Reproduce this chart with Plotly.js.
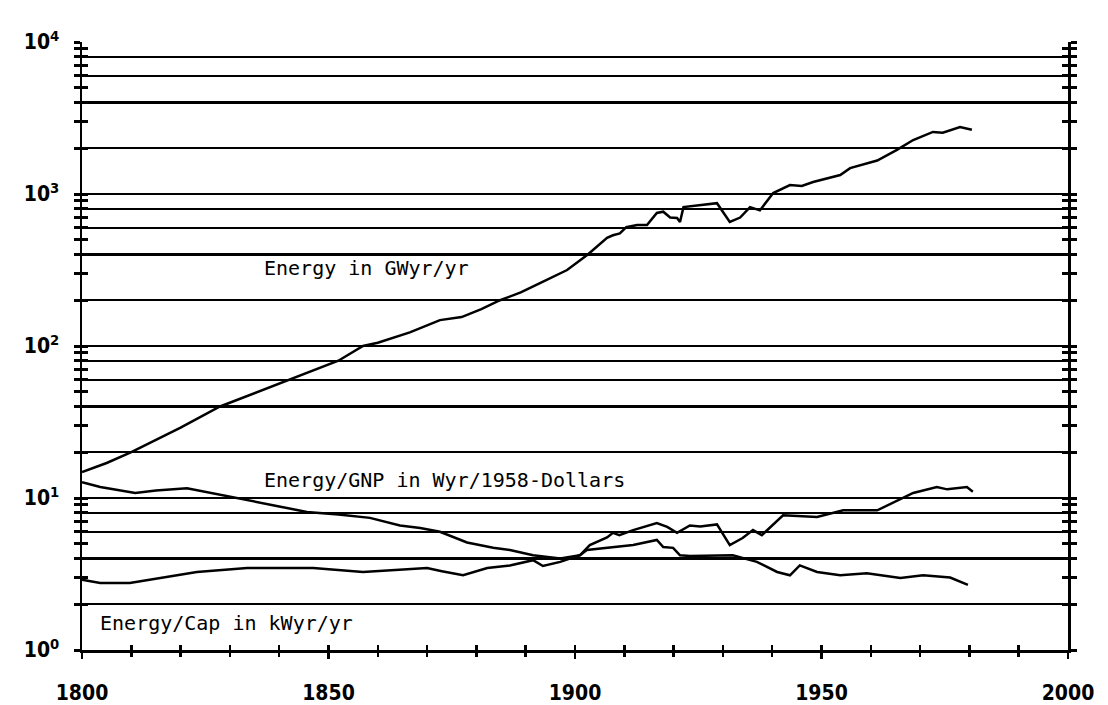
<!DOCTYPE html>
<html><head><meta charset="utf-8">
<script src="https://cdn.plot.ly/plotly-3.0.1.min.js"></script>
<style>html,body{margin:0;padding:0;background:#fff}#chart{width:1108px;height:705px}</style>
</head><body><div id="chart"></div>
<script>
// Total energy, GWyr/yr
const energyYears = [1800,1805,1810,1815,1820,1828,1835,1842,1847,1852,1857,1860,1866.5,1872.6,1877,1881,1884.8,1889,1893,1898.4,1902.6,1903.7,1906.5,1907.7,1909.1,1910.4,1912.6,1914.6,1916.6,1917.9,1919.3,1920.7,1921.3,1922,1925,1928.8,1931.4,1933.5,1935.5,1937.5,1940.2,1943.6,1946,1948.3,1953.8,1955.8,1961.3,1965.3,1968.6,1972.6,1974.6,1978.1,1980.5];
const energyVals  = [14.8,17,20,24,29,40,49,60,70,80,100,105,123,148,155,175,200,225,260,316,400,428,515,535,550,605,625,625,750,765,700,695,655,820,840,870,655,700,820,780,1015,1145,1130,1200,1333,1480,1660,1950,2265,2560,2530,2760,2650];
// Energy/GNP, Wyr/1958-Dollars
const gnpYears = [1800,1803.7,1810.8,1815,1821.3,1827,1833.5,1840,1845.6,1852,1858.4,1864.5,1868.6,1872.6,1878.1,1883.4,1886.8,1891.5,1897,1901,1902.4,1906.5,1911.8,1916.6,1917.9,1919.9,1921.3,1923.3,1928.8,1932,1936.9,1941,1943.6,1945.6,1949.1,1953.8,1959.2,1966,1970.6,1976.1,1979.7];
const gnpVals  = [12.7,11.8,10.8,11.2,11.6,10.7,9.7,8.8,8.1,7.8,7.4,6.6,6.35,6.0,5.1,4.7,4.55,4.2,4.0,4.2,4.55,4.7,4.9,5.3,4.76,4.7,4.2,4.15,4.2,4.2,3.8,3.26,3.1,3.6,3.26,3.1,3.2,2.98,3.1,3.0,2.68];
// Energy/Cap, kWyr/yr
const capYears = [1800,1803.7,1809.7,1816.4,1823.3,1833.5,1846.9,1857,1863.9,1870,1873,1877.3,1882.2,1886.8,1891.5,1893.5,1897,1901,1903,1906.5,1907.7,1909,1911.8,1916.6,1918.7,1920.7,1923.3,1925.4,1928.8,1931.4,1934,1936.1,1937.9,1942.2,1949.1,1954.4,1961.3,1968.6,1973.4,1975.5,1979.5,1980.7];
const capVals  = [2.9,2.76,2.76,3.0,3.26,3.46,3.46,3.26,3.36,3.46,3.3,3.1,3.46,3.6,3.9,3.57,3.8,4.2,4.9,5.5,5.9,5.7,6.15,6.85,6.45,5.9,6.6,6.5,6.7,4.9,5.45,6.15,5.7,7.7,7.5,8.3,8.3,10.8,11.8,11.4,11.8,11];

const seriesLabels = ["Energy in GWyr/yr", "Energy/GNP in Wyr/1958-Dollars", "Energy/Cap in kWyr/yr"];
const decadeVals = [1,10,100,1000,10000];
const decadeText = ["10<sup>0</sup>","10<sup>1</sup>","10<sup>2</sup>","10<sup>3</sup>","10<sup>4</sup>"];
const gridMultipliers = [1,2,4,6,8];
const tickMultipliers = [1,2,3,4,5,6,7,8,9];
const xLabelVals = [1800,1850,1900,1950,2000];
const xLabelText = ["1800","1850","1900","1950","2000"];

const gridVals = [], minorVals = [];
decadeVals.forEach(d => {
  gridMultipliers.forEach(m => { if (d*m <= 10000) gridVals.push(d*m); });
  tickMultipliers.forEach(m => { if (d*m <= 10000) minorVals.push(d*m); });
});
const xMinor = []; for (let y = 1800; y <= 2000; y += 10) xMinor.push(y);

const lineStyle = {color:'#000', width:2.5, shape:'linear'};
const traces = [
  {x: energyYears, y: energyVals, mode:'lines', line: lineStyle, name: seriesLabels[0]},
  {x: gnpYears, y: gnpVals, mode:'lines', line: lineStyle, name: seriesLabels[1]},
  {x: capYears, y: capVals, mode:'lines', line: lineStyle, name: seriesLabels[2]},
  // empty helper traces so the overlay tick / grid axes are drawn
  {x: [], y: [], xaxis:'x2', yaxis:'y2', mode:'lines', hoverinfo:'skip'},
  {x: [], y: [], xaxis:'x3', yaxis:'y3', mode:'lines', hoverinfo:'skip'},
  {x: [], y: [], xaxis:'x2', yaxis:'y4', mode:'lines', hoverinfo:'skip'}
];

const tickFont = {family:'"DejaVu Sans Condensed","DejaVu Sans",sans-serif', size:21, color:'#000', weight:'bold'};
const annFont = {family:'"DejaVu Sans Mono","Liberation Mono",monospace', size:20, color:'#000', weight:'normal'};

const yRange = [0,4], xRange = [1800,2000];
const blankAxis = {showticklabels:false, showgrid:false, zeroline:false, showline:false};
const layout = {
  width:1108, height:705,
  margin:{l:82, r:40, t:42, b:55},
  paper_bgcolor:'#fff', plot_bgcolor:'#fff',
  showlegend:false,
  font: {family: tickFont.family, size: 20, color:'#000'},
  xaxis:{range:xRange, tickvals: xLabelVals, ticktext: xLabelText,
         ticks:'outside', ticklen:6, tickwidth:2.5, tickcolor:'#000',
         showgrid:false, zeroline:false, showline:true, linecolor:'#000', linewidth:2.5,
         tickfont: tickFont, ticklabelstandoff:16},
  xaxis2:Object.assign({overlaying:'x', anchor:'y', side:'bottom', range:xRange, tickvals:xMinor,
         ticks:'outside', ticklen:6, tickwidth:2.5, tickcolor:'#000'}, blankAxis),
  xaxis3:Object.assign({overlaying:'x', anchor:'y', side:'bottom', range:xRange, tickvals:xMinor,
         ticks:'inside', ticklen:5, tickwidth:2.5, tickcolor:'#000'}, blankAxis),
  yaxis:{type:'log', range:yRange, tickvals: decadeVals, ticktext: decadeText, ticks:'',
         showgrid:false, zeroline:false,
         showline:true, linecolor:'#000', linewidth:2.5, mirror:true,
         tickfont: tickFont, ticklabelstandoff:16},
  yaxis2:{type:'log', range:yRange, overlaying:'y', anchor:'x', tickvals: minorVals, ticks:'outside', ticklen:6, tickwidth:3,
          tickcolor:'#000', mirror:'ticks', showline:true, linecolor:'#000', linewidth:2.5,
          showticklabels:false, showgrid:false, zeroline:false},
  yaxis3:Object.assign({type:'log', range:yRange, overlaying:'y', anchor:'x', tickvals: minorVals, ticks:'inside', ticklen:6, tickwidth:3,
          tickcolor:'#000', mirror:'ticks'}, blankAxis),
  yaxis4:{type:'log', range:yRange, overlaying:'y', anchor:'x', tickvals: gridVals, ticks:'',
          showticklabels:false, showgrid:true, gridcolor:'#000', gridwidth:2.4, zeroline:false, showline:false},
  annotations:[
    {xref:'x', yref:'y', x:1836.5, y:2.51, text:seriesLabels[0], showarrow:false, xanchor:'left', yanchor:'middle', font:annFont},
    {xref:'x', yref:'y', x:1836.5, y:1.118, text:seriesLabels[1], showarrow:false, xanchor:'left', yanchor:'middle', font:annFont},
    {xref:'x', yref:'y', x:1803.2, y:0.178, text:seriesLabels[2], showarrow:false, xanchor:'left', yanchor:'middle', font:annFont}
  ]
};
Plotly.newPlot('chart', traces, layout, {staticPlot:true, displayModeBar:false});
</script></body></html>
